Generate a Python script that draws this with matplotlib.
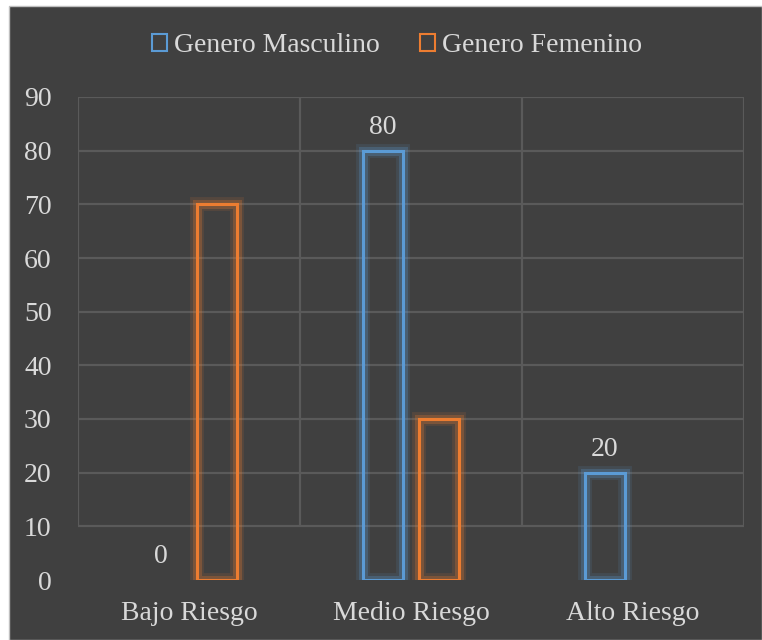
import matplotlib.pyplot as plt
import matplotlib.patheffects as pe
from matplotlib.patches import Patch, Rectangle

# DATA
categories = ['Bajo Riesgo', 'Medio Riesgo', 'Alto Riesgo']
masculino = [0, 80, 20]
femenino = [70, 30, 0]
yticks = [0, 10, 20, 30, 40, 50, 60, 70, 80, 90]

# COLORS
BG = '#404040'
GRID = '#5A5A5A'
TXT = '#D9D9D9'
BLUE = '#5B9BD5'
ORANGE = '#ED7D31'

plt.rcParams['font.family'] = ['Liberation Serif', 'DejaVu Serif']
FS = 20

fig = plt.figure(figsize=(7.62, 6.4), dpi=100)
fig.patch.set_facecolor('white')
fig.patches.append(Rectangle((9 / 762, 0), 1 - 9 / 762, 1 - 6 / 640,
                             transform=fig.transFigure, facecolor=BG,
                             edgecolor='#BFBFBF', linewidth=1, zorder=-10))

ax = fig.add_axes([78 / 762, 60 / 640, 666 / 762, 483 / 640])
ax.set_facecolor('none')
for s in ax.spines.values():
    s.set_visible(False)

ax.set_xlim(-0.5, 2.5)
ax.set_ylim(0, 90)

# gridlines
for y in yticks[1:]:
    ax.axhline(y, color=GRID, linewidth=1.6, zorder=1)
ax.vlines([-0.5, 0.5, 1.5, 2.5], 10, 90, color=GRID, linewidth=1.6, zorder=1)

w = 0.18
off = 0.126
xs = range(len(categories))


def glow(color):
    return [pe.Stroke(linewidth=10, foreground=color, alpha=0.12),
            pe.Stroke(linewidth=6.5, foreground=color, alpha=0.25),
            pe.Normal()]


for x, m, f in zip(xs, masculino, femenino):
    if m > 0:
        b = ax.bar(x - off, m, width=w, facecolor='none', edgecolor=BLUE,
                   linewidth=2.2, zorder=3)
        b[0].set_path_effects(glow(BLUE))
    if f > 0:
        b = ax.bar(x + off, f, width=w, facecolor='none', edgecolor=ORANGE,
                   linewidth=2.2, zorder=3)
        b[0].set_path_effects(glow(ORANGE))
    ax.text(x - off, m + 2, str(m), ha='center', va='bottom',
            color=TXT, fontsize=FS)

ax.set_xticks(list(xs))
ax.set_xticklabels(categories, fontsize=FS, color=TXT)
ax.set_yticks(yticks)
ax.set_yticklabels([str(v) for v in yticks], fontsize=FS, color=TXT)
ax.tick_params(axis='both', length=0)
ax.tick_params(axis='y', pad=19)
ax.tick_params(axis='x', pad=15)

handles = [Patch(facecolor='none', edgecolor=BLUE, linewidth=1.5, label='Genero Masculino'),
           Patch(facecolor='none', edgecolor=ORANGE, linewidth=1.5, label='Genero Femenino')]
fig.legend(handles=handles, loc='center', bbox_to_anchor=(397 / 762, 1 - 46 / 640),
           ncol=2, frameon=False, fontsize=FS, labelcolor=TXT,
           handlelength=0.55, handleheight=0.55, handletextpad=0.25,
           columnspacing=1.45)

plt.savefig('out.png', dpi=100, facecolor=fig.get_facecolor())
